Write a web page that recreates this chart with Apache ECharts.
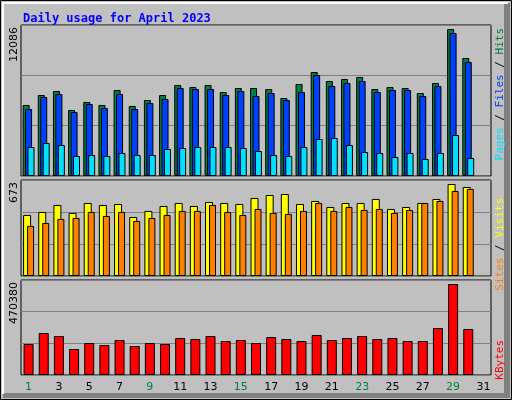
<!DOCTYPE html>
<html>
<head>
<meta charset="utf-8">
<script src="https://cdn.jsdelivr.net/npm/echarts@6/dist/echarts.min.js"></script>
<style>html,body{margin:0;padding:0;background:#c0c0c0}#chart{width:512px;height:400px}</style>
</head>
<body>
<div id="chart"></div>
<script>
// values, April 2023
const days = Array.from({length: 31}, (v, i) => String(i + 1));
const weekend = ['1', '2', '8', '9', '15', '16', '22', '23', '29', '30'];

const hits = [5683, 6483, 6803, 5283, 5923, 5683, 6883, 5603, 6083, 6483, 7284, 7124, 7284, 6723, 7044,
    7044, 6963, 6243, 7364, 8324, 7604, 7764, 7924, 6963, 7124, 7044, 6643, 7444, 11766, 9445, null];
const files = [5363, 6323, 6563, 5123, 5763, 5443, 6563, 5363, 5843, 6163, 7044, 6963, 6963, 6483, 6803,
    6403, 6643, 6083, 6723, 8084, 7204, 7444, 7604, 6723, 6883, 6883, 6403, 7204, 11446, 9125, null];
const pages = [2321, 2641, 2481, 1601, 1681, 1601, 1841, 1681, 1681, 2161, 2241, 2321, 2321, 2321, 2241,
    2001, 1681, 1601, 2321, 2962, 3042, 2481, 1921, 1841, 1521, 1841, 1361, 1841, 3282, 1441, null];
const visits = [428, 449, 498, 442, 512, 498, 505, 414, 456, 491, 512, 491, 519, 512, 505,
    547, 568, 575, 505, 526, 484, 512, 512, 540, 470, 484, 512, 540, 645, 624, null];
const sites = [351, 372, 400, 407, 449, 421, 449, 386, 407, 428, 456, 456, 498, 449, 428,
    470, 442, 435, 456, 512, 456, 484, 463, 470, 442, 463, 512, 526, 596, 610, null];
const kbytes = [153450, 207900, 193050, 128700, 158400, 148500, 173250, 143550, 158400, 153450, 183150, 178200, 193050, 168300, 173250,
    158400, 188100, 178200, 168300, 198000, 173250, 183150, 193050, 178200, 183150, 168300, 168300, 232650, 450450, 227700, null];
const maxHits = 12086, maxVisits = 673, maxKbytes = 470380;

const chart = echarts.init(document.getElementById('chart'));
const bar = {color: '#000', width: 1};

function xAxis(i, labels) {
    return {
        type: 'category', gridIndex: i, data: days, boundaryGap: true,
        axisLine: {show: false}, axisTick: {show: false},
        axisLabel: labels ? {
            show: true, margin: 7, fontFamily: 'DejaVu Sans', fontSize: 11,
            color: v => weekend.includes(v) ? '#008040' : '#000'
        } : {show: false}
    };
}
function yAxis(i, max) {
    return {
        type: 'value', gridIndex: i, min: 0, max: max, interval: max / 3,
        axisLabel: {show: false}, axisLine: {show: false}, axisTick: {show: false},
        splitLine: {show: true, lineStyle: {color: '#808080', width: 1}}
    };
}
function sideLabel(x, y, parts) {
    return {
        type: 'text', x: x, y: y, rotation: Math.PI / 2,
        style: {
            text: parts.map((p, k) => '{s' + k + '|' + p[0] + '}').join(''),
            align: 'right', verticalAlign: 'middle',
            rich: Object.fromEntries(parts.map((p, k) => ['s' + k, {fill: p[1], fontFamily: 'DejaVu Sans Mono', fontSize: 11}]))
        }
    };
}
function maxLabel(y, v) {
    return {
        type: 'text', x: 14, y: y, rotation: Math.PI / 2,
        style: {text: String(v), align: 'right', verticalAlign: 'middle', fill: '#000', fontFamily: 'DejaVu Sans', fontSize: 11}
    };
}

chart.setOption({
    animation: false,
    backgroundColor: '#c0c0c0',
    title: {
        text: 'Daily usage for April 2023', left: 18, top: 8,
        textStyle: {color: '#0000ff', fontFamily: 'DejaVu Sans Mono', fontWeight: 'bold', fontSize: 12}
    },
    grid: [
        {left: 21, top: 25, width: 470, height: 151, show: true, backgroundColor: '#c0c0c0', borderColor: '#000', borderWidth: 1},
        {left: 21, top: 180, width: 470, height: 96, show: true, backgroundColor: '#c0c0c0', borderColor: '#000', borderWidth: 1},
        {left: 21, top: 280, width: 470, height: 95, show: true, backgroundColor: '#c0c0c0', borderColor: '#000', borderWidth: 1}
    ],
    xAxis: [xAxis(0, false), xAxis(1, false), xAxis(2, true)],
    yAxis: [yAxis(0, maxHits), yAxis(1, maxVisits), yAxis(2, maxKbytes)],
    series: [
        {type: 'bar', xAxisIndex: 0, yAxisIndex: 0, data: hits, barWidth: 7, barGap: '-65%', itemStyle: {color: '#008040', borderColor: '#000', borderWidth: 1}},
        {type: 'bar', xAxisIndex: 0, yAxisIndex: 0, data: files, barWidth: 7, itemStyle: {color: '#0040ff', borderColor: '#000', borderWidth: 1}},
        {type: 'bar', xAxisIndex: 0, yAxisIndex: 0, data: pages, barWidth: 7, itemStyle: {color: '#00e0ff', borderColor: '#000', borderWidth: 1}},
        {type: 'bar', xAxisIndex: 1, yAxisIndex: 1, data: visits, barWidth: 8, barGap: '-50%', itemStyle: {color: '#ffff00', borderColor: '#000', borderWidth: 1}},
        {type: 'bar', xAxisIndex: 1, yAxisIndex: 1, data: sites, barWidth: 7, itemStyle: {color: '#ff8000', borderColor: '#000', borderWidth: 1}},
        {type: 'bar', xAxisIndex: 2, yAxisIndex: 2, data: kbytes, barWidth: 10, itemStyle: {color: '#ff0000', borderColor: '#000', borderWidth: 1}}
    ],
    graphic: [
        {type: 'rect', z: -10, shape: {x: 0.5, y: 0.5, width: 511, height: 399}, style: {fill: null, stroke: '#000', lineWidth: 1}},
        {type: 'rect', z: -10, shape: {x: 504, y: 3, width: 6, height: 395}, style: {fill: '#808080'}},
        {type: 'rect', z: -10, shape: {x: 3, y: 393, width: 507, height: 5}, style: {fill: '#808080'}},
        {type: 'rect', z: -10, shape: {x: 2, y: 2, width: 506, height: 2}, style: {fill: '#ffffff'}},
        {type: 'rect', z: -10, shape: {x: 2, y: 2, width: 2, height: 392}, style: {fill: '#ffffff'}},
        maxLabel(27, maxHits), maxLabel(182, maxVisits), maxLabel(282, maxKbytes),
        sideLabel(500, 28, [['Pages', '#00e0ff'], [' / ', '#000'], ['Files', '#0040ff'], [' / ', '#000'], ['Hits', '#008040']]),
        sideLabel(500, 198, [['Sites', '#ff8000'], [' / ', '#000'], ['Visits', '#ffff00']]),
        sideLabel(500, 340, [['KBytes', '#ff0000']])
    ]
});
</script>
</body>
</html>
